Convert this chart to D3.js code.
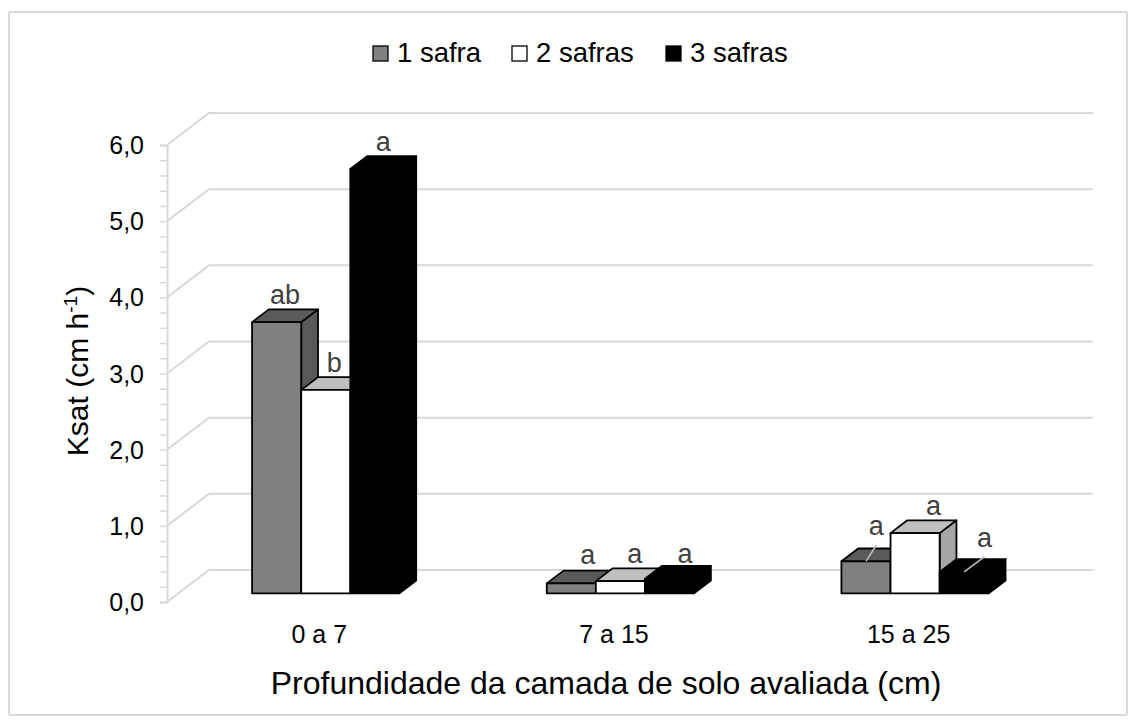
<!DOCTYPE html>
<html>
<head>
<meta charset="utf-8">
<script src="https://cdn.jsdelivr.net/npm/d3@7"></script>
<style>
  body { margin: 0; background: #ffffff; }
  text { font-family: "Liberation Sans", Arial, sans-serif; }
</style>
</head>
<body>
<svg id="chart" width="1136" height="724"></svg>
<script>
// Saturated hydraulic conductivity by soil layer and number of harvests
const categories = ["0 a 7", "7 a 15", "15 a 25"];
const seriesNames = ["1 safra", "2 safras", "3 safras"];
const safra1 = [3.56, 0.13, 0.42];
const safra2 = [2.67, 0.16, 0.79];
const safra3 = [5.57, 0.19, 0.28];
const letters1 = ["ab", "a", "a"];
const letters2 = ["b", "a", "a"];
const letters3 = ["a", "a", "a"];
const yTickValues = [0, 1, 2, 3, 4, 5, 6];
const yTickLabels = ["0,0", "1,0", "2,0", "3,0", "4,0", "5,0", "6,0"];

const seriesValues = [safra1, safra2, safra3];
const seriesLetters = [letters1, letters2, letters3];

// face colours per series: front, top, right side
const frontFill = ["#808080", "#ffffff", "#000000"];
const topFill = ["#5a5a5a", "#bfbfbf", "#000000"];
const sideFill = ["#595959", "#a6a6a6", "#000000"];

const svg = d3.select("#chart");
const W = 1136, H = 724;

// chart area border
svg.append("rect")
  .attr("x", 9).attr("y", 12).attr("width", W - 18).attr("height", H - 21)
  .attr("rx", 2).attr("fill", "#ffffff")
  .attr("stroke", "#d9d9d9").attr("stroke-width", 2);

// oblique projection: depth 0 = front plane, depth 1 = back wall
const DX = 42, DY = 32;
const x = d3.scaleBand().domain(categories).range([167, 1051]);
const xs = d3.scaleBand().domain(seriesNames).range([0, x.bandwidth()])
  .paddingInner(0).paddingOuter(1.5);
const y = d3.scaleLinear().domain([0, 6]).range([602, 145]);
const P = (px, v, d) => [px + d * DX, y(v) - d * DY];
const poly = pts => "M" + pts.map(p => p.join(",")).join("L") + "Z";

// back wall gridlines with the diagonal return to the front axis
const grid = svg.append("g");
yTickValues.forEach(v => {
  const f = P(167, v, 0), b = P(167, v, 1), e = P(1051, v, 1);
  grid.append("path")
    .attr("d", `M${f[0]},${f[1]}L${b[0]},${b[1]}L${e[0]},${e[1]}`)
    .attr("fill", "none").attr("stroke", "#d9d9d9").attr("stroke-width", 2);
});

// vertical axis with major and minor ticks
const yAxis = d3.axisLeft(y)
  .tickValues(d3.range(0, 30.5).map(i => i / 5))
  .tickSize(7).tickFormat("");
const axG = svg.append("g").attr("transform", "translate(167,0)").call(yAxis);
axG.select(".domain").attr("stroke", "#d9d9d9").attr("stroke-width", 2);
axG.selectAll(".tick line").attr("stroke", "#d9d9d9").attr("stroke-width", 1.5);

svg.append("g").selectAll("text").data(yTickValues).join("text")
  .attr("x", 144).attr("y", d => y(d)).attr("dy", "0.36em")
  .attr("text-anchor", "end").attr("font-size", 25).attr("fill", "#000")
  .text((d, i) => yTickLabels[i]);

// 3D columns, drawn left to right so each front face hides its neighbour's side
const d0 = 0.272, d1 = 0.672;
const bars = svg.append("g");
const barList = [];
categories.forEach((c, ci) => {
  seriesNames.forEach((s, si) => {
    const v = seriesValues[si][ci];
    const x0 = x(c) + xs(s), x1 = x0 + xs.bandwidth();
    barList.push({ ci, si, v, x0, x1 });
  });
});
barList.forEach(b => {
  const g = bars.append("g");
  const common = sel => sel.attr("stroke", "#000").attr("stroke-width", 1.8)
    .attr("stroke-linejoin", "round");
  g.append("path").call(common).attr("fill", sideFill[b.si])
    .attr("d", poly([P(b.x1, 0, d0), P(b.x1, 0, d1), P(b.x1, b.v, d1), P(b.x1, b.v, d0)]));
  g.append("path").call(common).attr("fill", topFill[b.si])
    .attr("d", poly([P(b.x0, b.v, d0), P(b.x1, b.v, d0), P(b.x1, b.v, d1), P(b.x0, b.v, d1)]));
  g.append("path").call(common).attr("fill", frontFill[b.si])
    .attr("d", poly([P(b.x0, 0, d0), P(b.x1, 0, d0), P(b.x1, b.v, d0), P(b.x0, b.v, d0)]));
});

// significance letters; a few were dragged off their columns and keep a leader line
const labelNudge = {
  "1-0": [8, -2], "1-1": [6, 0], "1-2": [7, 2],
  "2-0": [2, -8.5], "2-1": [10, 0], "2-2": [12, -7.5]
};
const leaderFor = new Set(["2-0", "2-2"]);
const labels = svg.append("g");
barList.forEach(b => {
  const key = b.ci + "-" + b.si;
  const nd = labelNudge[key] || [0, 0];
  const top = P((b.x0 + b.x1) / 2, b.v, (d0 + d1) / 2);
  const back = P(b.x0, b.v, d1);
  const lx = top[0] + nd[0], ly = back[1] - 5 + nd[1];
  if (leaderFor.has(key)) {
    const edge = P((b.x0 + b.x1) / 2, b.v, d0);
    labels.append("line")
      .attr("x1", lx).attr("y1", ly + 10).attr("x2", edge[0]).attr("y2", edge[1])
      .attr("stroke", "#bfbfbf").attr("stroke-width", 1.5);
  }
  labels.append("text")
    .attr("x", lx).attr("y", ly).attr("text-anchor", "middle")
    .attr("font-size", 27).attr("fill", "#404040")
    .text(seriesLetters[b.si][b.ci]);
});

// category labels
svg.append("g").selectAll("text").data(categories).join("text")
  .attr("x", d => x(d) + x.bandwidth() / 2 + 5).attr("y", 643)
  .attr("text-anchor", "middle").attr("font-size", 25).attr("fill", "#000")
  .text(d => d);

// axis titles
svg.append("text")
  .attr("x", 606).attr("y", 694).attr("text-anchor", "middle")
  .attr("font-size", 32).attr("fill", "#000")
  .text("Profundidade da camada de solo avaliada (cm)");

const yTitle = svg.append("text")
  .attr("transform", "translate(88,371) rotate(-90)")
  .attr("text-anchor", "middle").attr("font-size", 30).attr("fill", "#000");
yTitle.append("tspan").text("Ksat (cm h");
yTitle.append("tspan").attr("font-size", 19).attr("dy", -11).text("-1");
yTitle.append("tspan").attr("dy", 11).text(")");

// legend
const legendX = [373, 512, 666];
const legend = svg.append("g");
seriesNames.forEach((s, i) => {
  legend.append("rect")
    .attr("x", legendX[i]).attr("y", 46).attr("width", 15).attr("height", 15)
    .attr("fill", frontFill[i]).attr("stroke", "#000").attr("stroke-width", 1.3);
  legend.append("text")
    .attr("x", legendX[i] + 24).attr("y", 61.5)
    .attr("font-size", 27.5).attr("fill", "#000").text(s);
});
</script>
</body>
</html>
